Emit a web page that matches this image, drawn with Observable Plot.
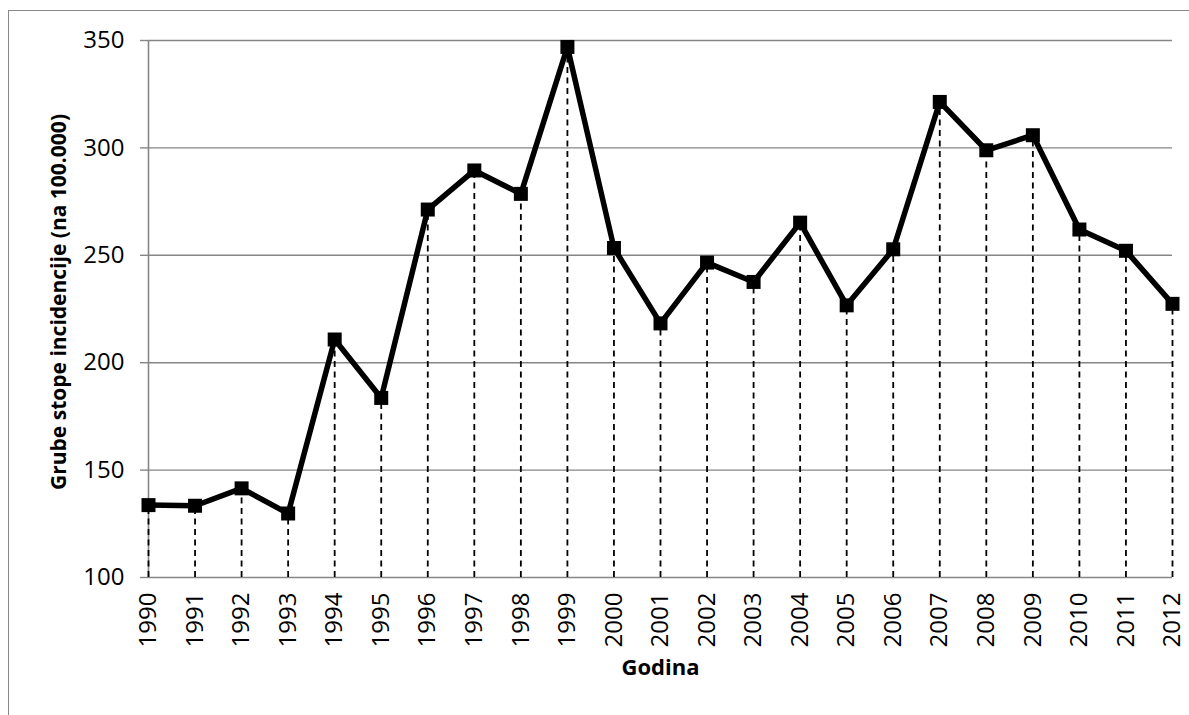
<!DOCTYPE html>
<html>
<head>
<meta charset="utf-8">
<script src="https://cdn.jsdelivr.net/npm/d3@7"></script>
<script src="https://cdn.jsdelivr.net/npm/@observablehq/plot@0.6"></script>
<style>
  html, body { margin: 0; padding: 0; background: #fff; overflow: hidden; width: 1189px; height: 715px; }
  #frame { position: absolute; left: 8px; top: 10px; width: 1220px; height: 740px; border: 1px solid #888; box-sizing: border-box; }
  #chart { position: absolute; left: 0; top: 0; }
  #ytitle { position: absolute; left: 58px; top: 302px; transform: translate(-50%, -50%) rotate(-90deg); white-space: nowrap;
            font-family: 'Open Sans', sans-serif; font-weight: bold; font-size: 21px; color: #000; line-height: 1; }
</style>
</head>
<body>
<div id="frame"></div>
<div id="chart"></div>
<div id="ytitle"></div>
<script>
const years = [1990, 1991, 1992, 1993, 1994, 1995, 1996, 1997, 1998, 1999, 2000, 2001, 2002, 2003, 2004, 2005, 2006, 2007, 2008, 2009, 2010, 2011, 2012];
const rates = [133.7, 133.4, 141.5, 129.8, 210.8, 183.6, 271.3, 289.5, 278.6, 347.0, 253.4, 218.3, 246.6, 237.6, 265.2, 226.7, 252.8, 321.4, 298.9, 305.9, 262.0, 252.1, 227.4];
const yTicks = [100, 150, 200, 250, 300, 350];
const xTitle = "Godina";
const yTitle = "Grube stope incidencije (na 100.000)";

const data = years.map((year, i) => ({year, rate: rates[i]}));
const gray = "#868686";

const plot = Plot.plot({
  width: 1189,
  height: 715,
  marginLeft: 148,
  marginRight: 17,
  marginTop: 40,
  marginBottom: 138,
  style: {fontFamily: "'Open Sans', sans-serif", fontSize: "23px", color: "#000", background: "transparent"},
  x: {type: "linear", domain: [1990, 2012]},
  y: {domain: [100, 350]},
  marks: [
    Plot.gridY(yTicks.filter(d => d > 100), {stroke: gray, strokeOpacity: 1, strokeWidth: 1.4}),
    Plot.axisY(yTicks, {tickSize: 8, tickPadding: 16, stroke: gray, strokeWidth: 1.4, fill: "#000", label: null, fontSize: 24}),
    Plot.axisX(years, {tickSize: 0, tickPadding: 15, tickRotate: -90, tickFormat: d => String(d), label: null, fill: "#000", fontSize: 24}),
    Plot.ruleY([100], {stroke: gray, strokeWidth: 1.6}),
    Plot.ruleX([1990], {y1: 100, y2: 350, stroke: gray, strokeWidth: 1.6}),
    Plot.ruleX(data, {x: "year", y1: 100, y2: "rate", stroke: "#000", strokeWidth: 1.8, strokeDasharray: "6,4.5"}),
    Plot.line(data, {x: "year", y: "rate", stroke: "#000", strokeWidth: 5.5, strokeLinejoin: "miter"}),
    Plot.dot(data, {x: "year", y: "rate", symbol: "square", r: 7.9, fill: "#000", stroke: "none"}),
    Plot.text([xTitle], {frameAnchor: "bottom", dy: 97, fontWeight: "bold", fontSize: 22, fill: "#000"})
  ]
});
document.getElementById("chart").appendChild(plot);
document.getElementById("ytitle").textContent = yTitle;
</script>
</body>
</html>
